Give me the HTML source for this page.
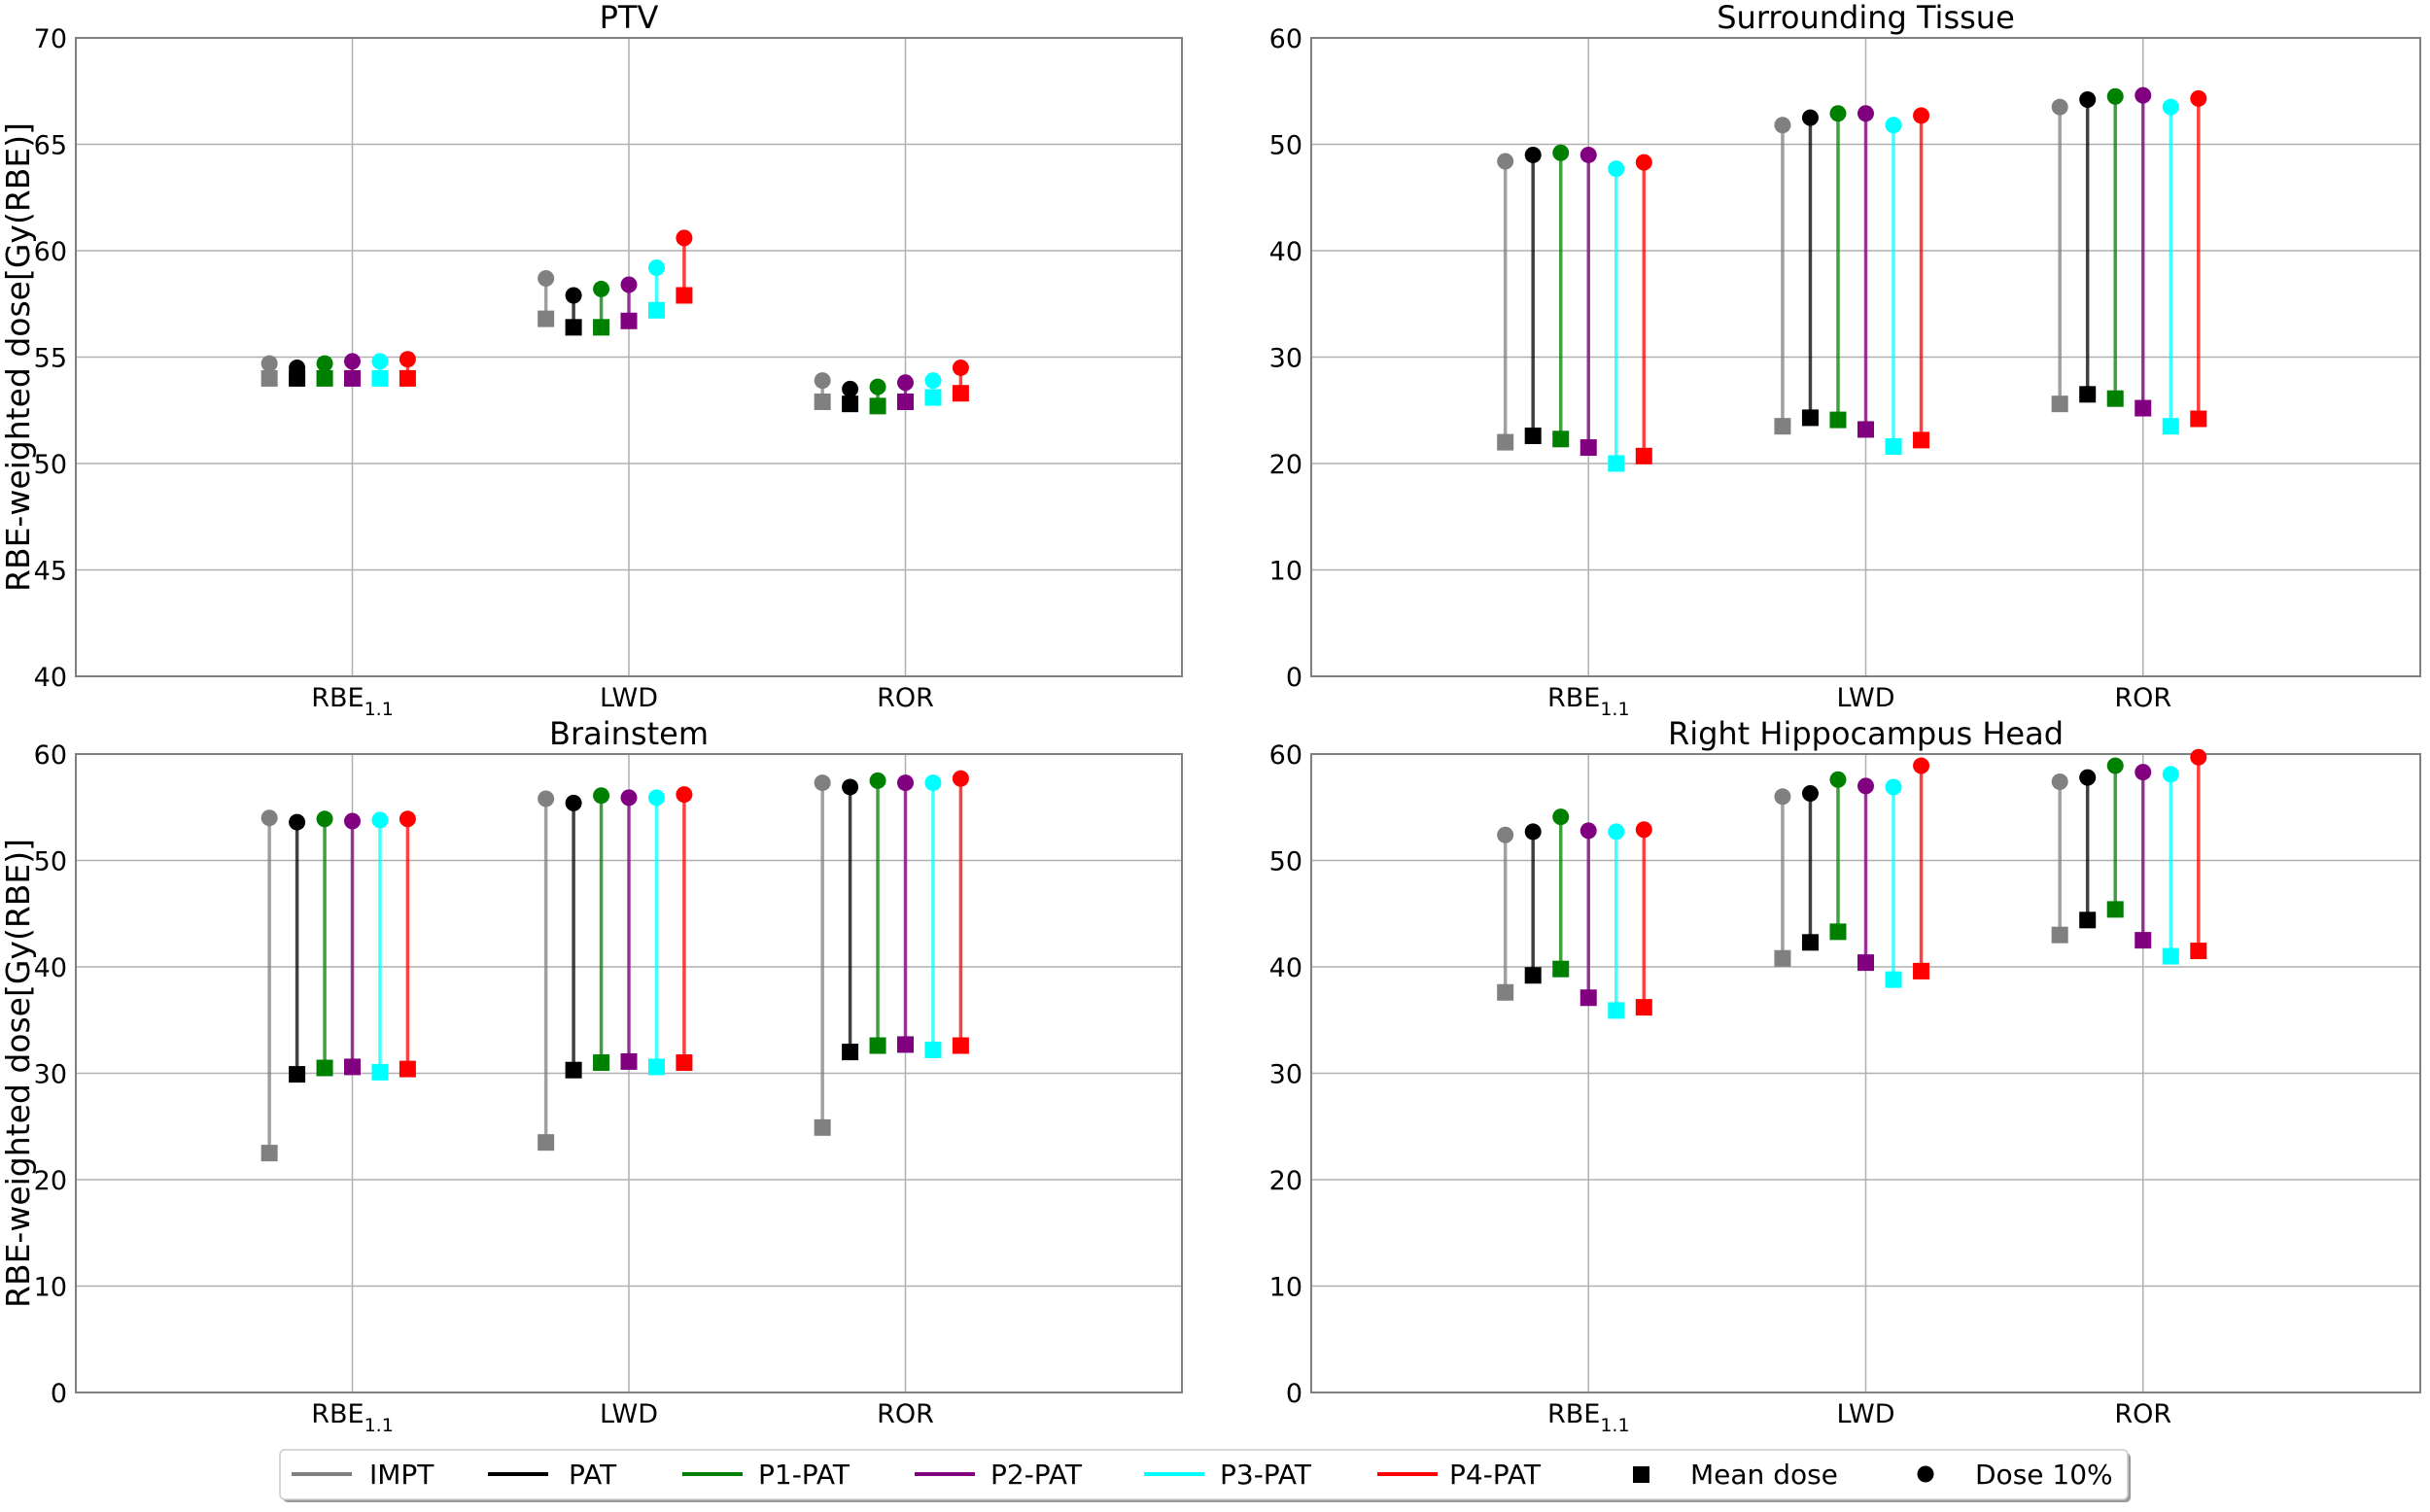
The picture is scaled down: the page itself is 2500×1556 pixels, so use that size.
<!DOCTYPE html>
<html><head><meta charset="utf-8"><style>
html,body{margin:0;padding:0;background:#fff;}
svg{display:block;font-family:"DejaVu Sans","Liberation Sans",sans-serif;}
</style></head><body>
<svg id="fig" width="2500" height="1556" viewBox="0 0 2500 1556" xmlns="http://www.w3.org/2000/svg"></svg>
<script>
const categories = ["RBE", "LWD", "ROR"];
const seriesNames = ["IMPT", "PAT", "P1-PAT", "P2-PAT", "P3-PAT", "P4-PAT"];
const seriesColors = ["#808080", "#000000", "#008000", "#800080", "#00ffff", "#ff0000"];
const panelTitles = ["PTV", "Surrounding Tissue", "Brainstem", "Right Hippocampus Head"];
const ptvTicks = [40, 45, 50, 55, 60, 65, 70];
const otherTicks = [0, 10, 20, 30, 40, 50, 60];
// mean dose [category][series]
const ptvMean = [[54.0,54.0,54.0,54.0,54.0,54.0],[56.8,56.4,56.4,56.7,57.2,57.9],[52.9,52.8,52.7,52.9,53.1,53.3]];
const ptvD10  = [[54.7,54.5,54.7,54.8,54.8,54.9],[58.7,57.9,58.2,58.4,59.2,60.6],[53.9,53.5,53.6,53.8,53.9,54.5]];
const surMean = [[22.0,22.6,22.3,21.5,20.0,20.7],[23.5,24.3,24.1,23.2,21.6,22.2],[25.6,26.5,26.1,25.2,23.5,24.2]];
const surD10  = [[48.4,49.0,49.2,49.0,47.7,48.3],[51.8,52.5,52.9,52.9,51.8,52.7],[53.5,54.2,54.5,54.6,53.5,54.3]];
const bsMean  = [[22.5,29.9,30.5,30.6,30.1,30.4],[23.5,30.3,31.0,31.1,30.6,31.0],[24.9,32.0,32.6,32.7,32.2,32.6]];
const bsD10   = [[54.0,53.6,53.9,53.7,53.8,53.9],[55.8,55.4,56.1,55.9,55.9,56.2],[57.3,56.9,57.5,57.3,57.3,57.7]];
const hipMean = [[37.6,39.2,39.8,37.1,35.9,36.2],[40.8,42.3,43.3,40.4,38.8,39.6],[43.0,44.4,45.4,42.5,41.0,41.5]];
const hipD10  = [[52.4,52.7,54.1,52.8,52.7,52.9],[56.0,56.3,57.6,57.0,56.9,58.9],[57.4,57.8,58.9,58.3,58.1,59.7]];

const NS = "http://www.w3.org/2000/svg";
const svg = document.getElementById("fig");
function mk(tag, attrs, parent){const e=document.createElementNS(NS,tag);for(const k in attrs)e.setAttribute(k,attrs[k]);(parent||svg).appendChild(e);return e;}

const panels = [
  {x0:78,x1:1216,y0:39,y1:696,ticks:ptvTicks,mean:ptvMean,d10:ptvD10,ylabel:true},
  {x0:1349,x1:2490,y0:39,y1:696,ticks:otherTicks,mean:surMean,d10:surD10,ylabel:false},
  {x0:78,x1:1216,y0:776,y1:1433,ticks:otherTicks,mean:bsMean,d10:bsD10,ylabel:true},
  {x0:1349,x1:2490,y0:776,y1:1433,ticks:otherTicks,mean:hipMean,d10:hipD10,ylabel:false}
];
const offsets = [-0.3,-0.2,-0.1,0,0.1,0.2];

panels.forEach((p,pi)=>{
  const g = mk("g",{});
  
  
  const ymin=p.ticks[0], ymax=p.ticks[p.ticks.length-1];
  const xs = v => p.x0 + (v+1)/4*(p.x1-p.x0);
  const ys = v => p.y1 - (v-ymin)/(ymax-ymin)*(p.y1-p.y0);
  // grid
  p.ticks.forEach(t=>{
    const l = mk("line",{x1:p.x0,x2:p.x1,y1:ys(t),y2:ys(t),stroke:"#b0b0b0","stroke-width":1.5},g);
    
    
    const tx = mk("text",{x:p.x0-9,y:ys(t)+10,"text-anchor":"end","font-size":27,fill:"#000"},g);
    tx.textContent=t;
    
    
  });
  categories.forEach((c,ci)=>{
    const l = mk("line",{x1:xs(ci),x2:xs(ci),y1:p.y0,y2:p.y1,stroke:"#b0b0b0","stroke-width":1.5},g);
    
    
    const tx = mk("text",{x:xs(ci),y:p.y1+31,"text-anchor":"middle","font-size":27,fill:"#000"},g);
    if(c==="RBE"){ tx.innerHTML='RBE<tspan font-size="19" dy="9">1.1</tspan>'; }
    else tx.textContent=c;
    
    
  });
  // frame
  const fr = mk("rect",{x:p.x0,y:p.y0,width:p.x1-p.x0,height:p.y1-p.y0,fill:"none",stroke:"#808080","stroke-width":2},g);
  
  
  const ti = mk("text",{x:(p.x0+p.x1)/2,y:p.y0-10,"text-anchor":"middle","font-size":32,fill:"#000"},g);
  ti.textContent = panelTitles[pi];
  
  
  if(p.ylabel){
    const cy=(p.y0+p.y1)/2;
    const yl = mk("text",{x:30,y:cy,"text-anchor":"middle","font-size":33,fill:"#000",transform:`rotate(-90 30 ${cy})`},g);
    yl.textContent="RBE-weighted dose[Gy(RBE)]";
    
    
  }
  // series
  categories.forEach((c,ci)=>{
    seriesNames.forEach((s,si)=>{
      const x = xs(ci+offsets[si]);
      const m = p.mean[ci][si], d = p.d10[ci][si], col=seriesColors[si];
      const ln = mk("line",{x1:x,x2:x,y1:ys(m),y2:ys(d),stroke:col,"stroke-width":3.5,"stroke-opacity":0.75},g);
      
      
      const sq = mk("rect",{x:x-8.5,y:ys(m)-8.5,width:17,height:17,fill:col},g);
      
      
      const ci2 = mk("circle",{cx:x,cy:ys(d),r:8.5,fill:col},g);
      
      
    });
  });
});

// legend
const lg = mk("g",{});


mk("rect",{x:291,y:1495,width:1901,height:51,rx:5,fill:"#999"},lg);
const lb = mk("rect",{x:288,y:1492,width:1901,height:51,rx:5,fill:"#fff",stroke:"#ccc","stroke-width":1.5},lg);
const lineX = [300,502,702,941,1177,1417];
const textX = [380,585,780,1019,1255,1491];
seriesNames.forEach((s,i)=>{
  const l = mk("line",{x1:lineX[i],x2:lineX[i]+62,y1:1517,y2:1517,stroke:seriesColors[i],"stroke-width":4},lg);
  
  
  const t = mk("text",{x:textX[i],y:1527,"font-size":28,fill:"#000"},lg);
  t.textContent=s;
  
  
});
const sqm = mk("rect",{x:1680,y:1509,width:17,height:17,fill:"#000"},lg);


const t1 = mk("text",{x:1739,y:1527,"font-size":28,fill:"#000"},lg); t1.textContent="Mean dose";


const cm = mk("circle",{cx:1981,cy:1517,r:8.5,fill:"#000"},lg);


const t2 = mk("text",{x:2032,y:1527,"font-size":28,fill:"#000"},lg); t2.textContent="Dose 10%";


</script>
</body></html>
